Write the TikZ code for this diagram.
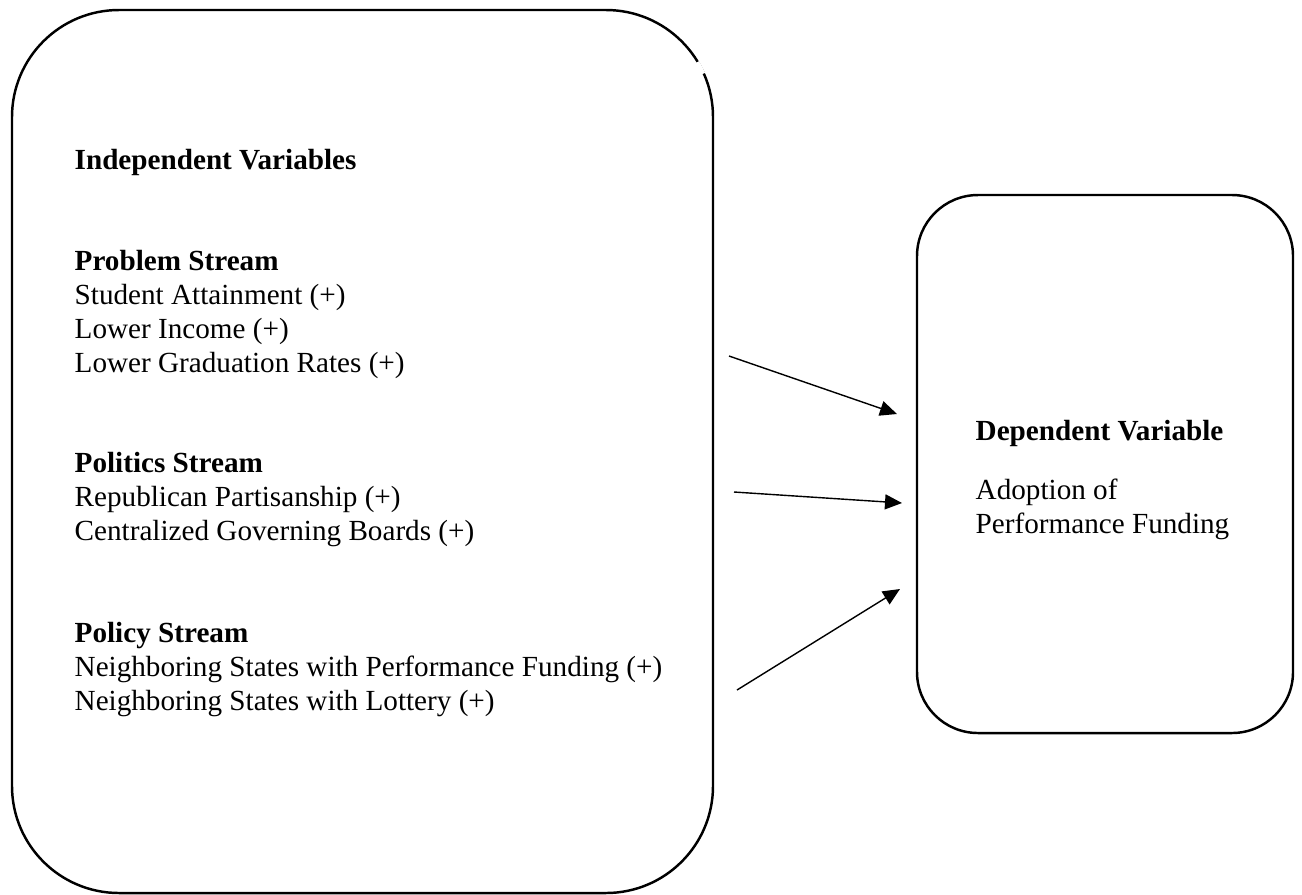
\documentclass[tikz,border=0pt]{standalone}
\usepackage{fontspec}
\setmainfont{Liberation Serif}
\usetikzlibrary{arrows.meta}

\tikzset{
    varbox/.style={draw, line width=0.7pt, rounded corners=#1, inner sep=0pt},
    vartext/.style={anchor=base west, align=left, inner sep=0pt,
        font=\fontsize{8.3}{9.67}\selectfont},
    link/.style={line width=0.4pt, -{Triangle[length=0.17cm,width=0.15cm]}}
}

\begin{document}
\begin{tikzpicture}
    \useasboundingbox (0,0) rectangle (13.02,-8.94);

    % Boxes
    \node[varbox=1.07cm, minimum width=7.01cm, minimum height=8.83cm] (indep) at (3.625,-4.515) {};
    \node[varbox=0.61cm, minimum width=3.76cm, minimum height=5.38cm] (dep) at (11.05,-4.64) {};
    % small break in the top right corner
    \draw[white, line width=1.4pt] (6.06,-1.17) ++(24:1.06) arc[start angle=24, end angle=31, radius=1.06];

    % Independent variables (anchored at the last baseline)
    \node[vartext] (ivar) at (0.74,-1.69) {\bfseries Independent Variables};
    \node[vartext] (prob) at (0.74,-3.72) {\textbf{Problem Stream}\\Student Attainment (+)\\Lower Income (+)\\Lower Graduation Rates (+)};
    \node[vartext] (poli) at (0.74,-5.40) {\textbf{Politics Stream}\\Republican Partisanship (+)\\Centralized Governing Boards (+)};
    \node[vartext] (poly) at (0.74,-7.10) {\textbf{Policy Stream}\\Neighboring States with Performance Funding (+)\\Neighboring States with Lottery (+)};

    % Dependent variable
    \node[vartext] (dvar) at (9.75,-4.40) {\bfseries Dependent Variable};
    \node[vartext] (adop) at (9.75,-5.33) {Adoption of\\Performance Funding};

    % Arrows
    \coordinate (s1) at (7.29,-3.56);
    \coordinate (e1) at (8.97,-4.14);
    \coordinate (s2) at (7.34,-4.92);
    \coordinate (e2) at (9.02,-5.03);
    \coordinate (s3) at (7.37,-6.90);
    \coordinate (e3) at (9.00,-5.89);
    \draw[link] (s1) -- (e1);
    \draw[link] (s2) -- (e2);
    \draw[link] (s3) -- (e3);
\end{tikzpicture}
\end{document}
